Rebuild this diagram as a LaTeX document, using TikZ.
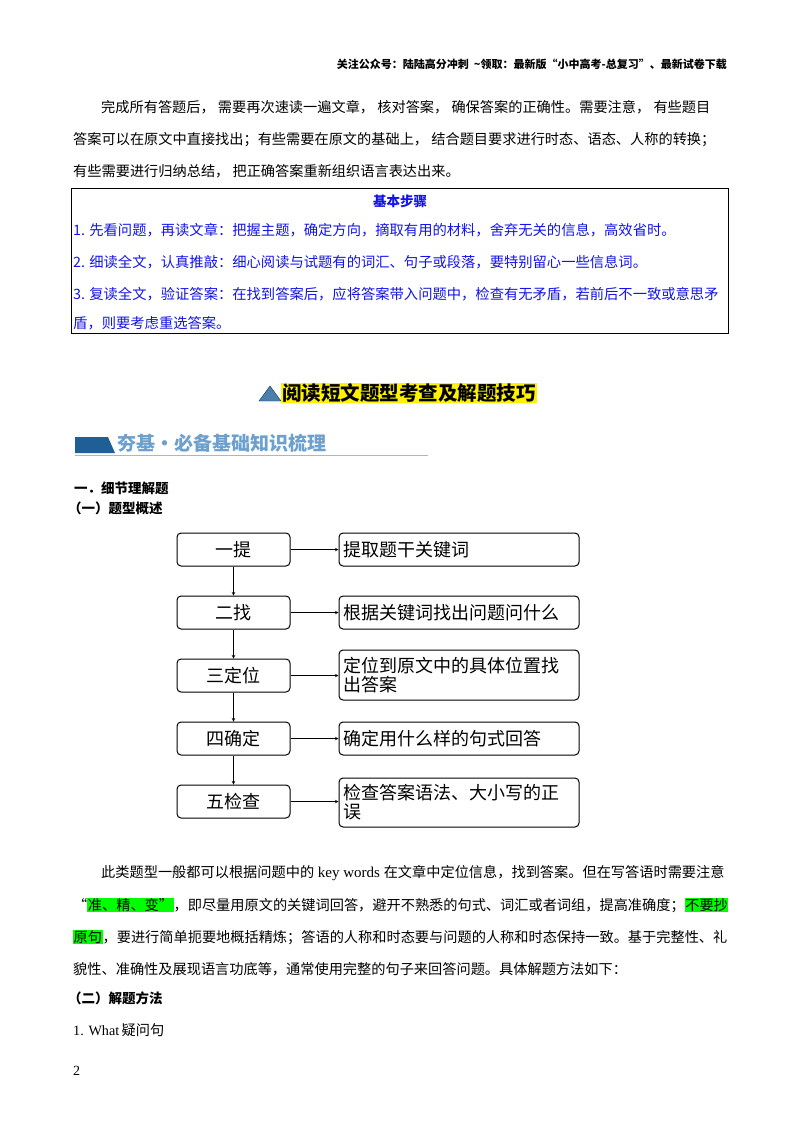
\documentclass[tikz,border=0pt]{standalone}
\usepackage{fontspec}
\setmainfont{Noto Sans CJK SC}
\newfontfamily\lat{Liberation Serif}
\XeTeXlinebreaklocale "zh"
\definecolor{bluetxt}{RGB}{20,20,230}
\definecolor{hlg}{RGB}{0,255,0}
\definecolor{banner}{RGB}{31,95,150}
\definecolor{bannertxt}{RGB}{110,160,205}
\begin{document}
\begin{tikzpicture}[x=1pt,y=-1pt,
  body/.style={anchor=west,inner sep=0pt,font=\fontsize{14.2}{16}\selectfont},
  blue/.style={body,text=bluetxt,font=\fontsize{14.3}{16}\selectfont},
  lbox/.style={draw,rounded corners=4pt,minimum width=113pt,minimum height=33pt,font=\fontsize{18}{20}\selectfont,line width=1pt},
  rbox/.style={draw,rounded corners=4pt,minimum width=240pt,minimum height=33pt,font=\fontsize{18}{20}\selectfont,line width=1pt,align=left,text width=232pt},
  arr/.style={-stealth,line width=0.6pt}]
\useasboundingbox (0,0) rectangle (800,1132);
\fill[white] (0,0) rectangle (800,1132);
\node[anchor=east,inner sep=0pt,font=\fontsize{11}{13}\bfseries\selectfont] (hdr) at (727,64) {关注公众号：陆陆高分冲刺\ \ \textasciitilde 领取：最新版“小中高考-总复习”、最新试卷下载};
\node[body] (p1) at (101,107) {完成所有答题后，\ 需要再次速读一遍文章，\ 核对答案，\ 确保答案的正确性。需要注意，\ 有些题目};
\node[body] (p2) at (73,140) {答案可以在原文中直接找出；有些需要在原文的基础上，\ 结合题目要求进行时态、语态、人称的转换；};
\node[body] (p3) at (73,171) {有些需要进行归纳总结，\ 把正确答案重新组织语言表达出来。};
\draw[line width=0.8pt] (71,188) rectangle (728,333);
\node[inner sep=0pt,text=bluetxt,font=\fontsize{13.5}{16}\bfseries\selectfont] (bt) at (400,201) {基本步骤};
\node[blue] (b1) at (73,230) {1. 先看问题，再读文章：把握主题，确定方向，摘取有用的材料，舍弃无关的信息，高效省时。};
\node[blue] (b2) at (73,262) {2. 细读全文，认真推敲：细心阅读与试题有的词汇、句子或段落，要特别留心一些信息词。};
\node[blue] (b3) at (73,294) {3. 复读全文，验证答案：在找到答案后，应将答案带入问题中，检查有无矛盾，若前后不一致或意思矛};
\node[blue] (b4) at (73,323) {盾，则要考虑重选答案。};
\fill[banner!80,draw=banner!60!black] (259,401) -- (270,386) -- (281,401) -- cycle;
\node[anchor=west,inner sep=1pt,fill=yellow,font=\fontsize{19.5}{22}\bfseries\selectfont] (title) at (281,393) {阅读短文题型考查及解题技巧};
\fill[banner] (75,437) -- (108,437) -- (115,453) -- (75,453) -- cycle;
\draw[bannertxt!70,line width=0.8pt] (75,455) -- (428,455);
\node[anchor=west,inner sep=0pt,text=bannertxt,font=\fontsize{19}{22}\bfseries\selectfont] (ban) at (117,443) {夯基·必备基础知识梳理};
\node[anchor=west,inner sep=0pt,font=\fontsize{13.5}{16}\bfseries\selectfont] (s1) at (74,488) {一．细节理解题};
\node[anchor=west,inner sep=0pt,font=\fontsize{13.5}{16}\bfseries\selectfont] (s2) at (68,508) {（一）题型概述};
\foreach \i/\t/\y in {1/一提/549.5,2/二找/612.5,3/三定位/675.5,4/四确定/738.5,5/五检查/801.5}
  \node[lbox] (l\i) at (233.5,\y) {\t};
\node[rbox] (r1) at (459,549.5) {\centering 提取题干关键词};
\node[rbox] (r2) at (459,612.5) {根据关键词找出问题问什么};
\node[rbox,minimum height=50pt,font=\fontsize{18}{19}\selectfont] (r3) at (459,675) {定位到原文中的具体位置找\\出答案};
\node[rbox] (r4) at (459,738.5) {确定用什么样的句式回答};
\node[rbox,minimum height=49pt,font=\fontsize{18}{19}\selectfont] (r5) at (459,802.5) {检查答案语法、大小写的正\\误};
\foreach \i in {1,...,5} \draw[arr] (l\i.east) -- (r\i.west |- l\i.east);
\foreach \i/\j in {1/2,2/3,3/4,4/5} \draw[arr] (l\i) -- (l\j);
\setlength\fboxsep{0.5pt}
\node[body] (q1) at (101,873) {此类题型一般都可以根据问题中的{\lat\fontsize{15}{16}\selectfont\ key words\ }在文章中定位信息，找到答案。但在写答语时需要注意};
\node[body] (q2) at (73,905) {“\colorbox{hlg}{准、精、变”}，即尽量用原文的关键词回答，避开不熟悉的句式、词汇或者词组，提高准确度；\colorbox{hlg}{不要抄}};
\node[body] (q3) at (73,937) {\colorbox{hlg}{原句}，要进行简单扼要地概括精炼；答语的人称和时态要与问题的人称和时态保持一致。基于完整性、礼};
\node[body] (q4) at (73,969) {貌性、准确性及展现语言功底等，通常使用完整的句子来回答问题。具体解题方法如下：};
\node[anchor=west,inner sep=0pt,font=\fontsize{13.5}{16}\bfseries\selectfont] (s3) at (68,998) {（二）解题方法};
\node[body] (w) at (73,1030) {{\lat 1. What}\,疑问句};
\node[anchor=west,inner sep=0pt,font=\lat\fontsize{14}{16}\selectfont] (pg) at (73,1071) {2};
\end{tikzpicture}
\end{document}
